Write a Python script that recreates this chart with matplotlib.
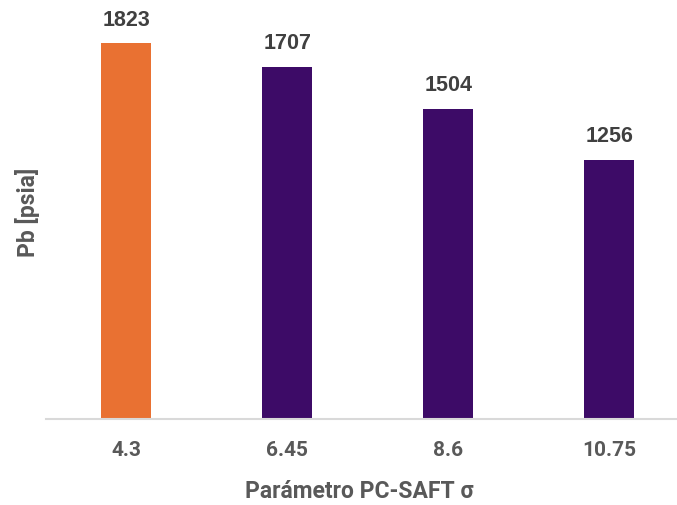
import matplotlib
matplotlib.use("Agg")
import matplotlib.pyplot as plt
from matplotlib import font_manager

categories = ["4.3", "6.45", "8.6", "10.75"]
values = [1823, 1707, 1504, 1256]
bar_colors = ["#E97132", "#3D0B67", "#3D0B67", "#3D0B67"]

names = {f.name for f in font_manager.fontManager.ttflist}
narrow = "Liberation Sans Narrow" if "Liberation Sans Narrow" in names else "Roboto"

fig = plt.figure(figsize=(6.77, 5.06), dpi=100)
W, H = 677, 506
left, right, top, bottom = 46, 677, 8, 420
ax = fig.add_axes([left / W, (H - bottom) / H, (right - left) / W, (bottom - top) / H])

x = list(range(len(categories)))
bars = ax.bar(x, values, width=0.31, color=bar_colors, zorder=2)

for b, v in zip(bars, values):
    ax.annotate(f"{v}", (b.get_x() + b.get_width() / 2, v), xytext=(0, 10),
                textcoords="offset points", ha="center", va="bottom",
                fontsize=15.5, fontweight="bold", color="#404040",
                family="Liberation Sans")

ax.set_ylim(0, 2000)
ax.set_xlim(-0.497, 3.42)
ax.set_xticks(x)
ax.set_xticklabels(categories, fontsize=15, fontweight="bold", color="#595959",
                   family=narrow)
ax.tick_params(axis="x", length=0, pad=15)
ax.set_yticks([])

for s in ["top", "right", "left"]:
    ax.spines[s].set_visible(False)
ax.spines["bottom"].set_color("#D9D9D9")
ax.spines["bottom"].set_linewidth(1.5)

ax.set_xlabel("Parámetro PC-SAFT σ", fontsize=16.5, fontweight="bold",
              color="#595959", family=[narrow, "DejaVu Sans"])
ax.xaxis.label.set_va("center")
ax.xaxis.set_label_coords(0.497, (bottom - 492) / (bottom - top))

ax.set_ylabel("Pb [psia]", fontsize=16.5, fontweight="bold", color="#595959",
              family=[narrow, "DejaVu Sans"])
ax.yaxis.label.set_va("center")
ax.yaxis.set_label_coords((27 - left) / (right - left), (bottom - 212) / (bottom - top))

fig.savefig("out.png", dpi=100)
